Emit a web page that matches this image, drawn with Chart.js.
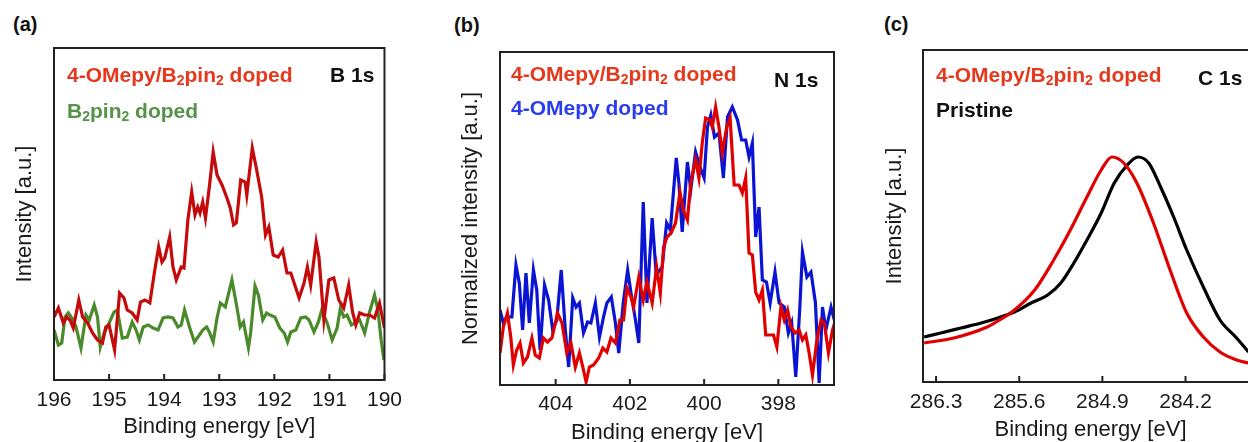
<!DOCTYPE html>
<html lang="en">
<head>
<meta charset="utf-8">
<title>XPS spectra - B 1s / N 1s / C 1s</title>
<script src="https://cdn.jsdelivr.net/npm/chart.js@4.4.1/dist/chart.umd.min.js"></script>
<style>
  html, body { margin: 0; padding: 0; background: #fff; overflow: hidden; }
  body { width: 1248px; height: 442px; position: relative; font-family: 'Liberation Sans', Arial, Helvetica, sans-serif; }
  .panel { position: absolute; top: 0; }
  .tag { position: absolute; font-weight: bold; font-size: 21px; line-height: 1; white-space: nowrap; }
  .tag sub { font-size: 14px; line-height: 0; vertical-align: -3px; }
  .letter { position: absolute; font-weight: bold; font-size: 20px; line-height: 1; color: #111; }
</style>
</head>
<body>

<div class="letter" style="left:13px;top:14px">(a)</div>
<div class="letter" style="left:454px;top:15px">(b)</div>
<div class="letter" style="left:884px;top:14px">(c)</div>

<div class="panel" style="left:0px;width:410px;height:442px"><canvas id="chartB1s"></canvas></div>
<div class="panel" style="left:440px;width:410px;height:450px"><canvas id="chartN1s"></canvas></div>
<div class="panel" style="left:860px;width:420px;height:446px"><canvas id="chartC1s"></canvas></div>

<!-- panel (a) labels -->
<div class="tag" style="left:67px;top:64px;color:#e5381c">4-OMepy/B<sub>2</sub>pin<sub>2</sub> doped</div>
<div class="tag" style="left:330px;top:64px;color:#111">B 1s</div>
<div class="tag" style="left:67px;top:100px;color:#559448">B<sub>2</sub>pin<sub>2</sub> doped</div>

<!-- panel (b) labels -->
<div class="tag" style="left:511px;top:63px;color:#e5381c">4-OMepy/B<sub>2</sub>pin<sub>2</sub> doped</div>
<div class="tag" style="left:774px;top:69px;color:#111">N 1s</div>
<div class="tag" style="left:511px;top:97px;color:#2a3cf0">4-OMepy doped</div>

<!-- panel (c) labels -->
<div class="tag" style="left:936px;top:64px;color:#e5381c">4-OMepy/B<sub>2</sub>pin<sub>2</sub> doped</div>
<div class="tag" style="left:1198px;top:67px;color:#111">C 1s</div>
<div class="tag" style="left:936px;top:99px;color:#111">Pristine</div>

<script>
// ========== データ ==========
// (a) B 1s
const b1sTicks = [196, 195, 194, 193, 192, 191, 190];
const b1sDopedE = [196.00, 195.92, 195.83, 195.77, 195.71, 195.65, 195.55, 195.48, 195.39, 195.30,
  195.21, 195.12, 195.06, 195.00, 194.90, 194.81, 194.73, 194.67, 194.58, 194.49,
  194.43, 194.35, 194.26, 194.17, 194.10, 194.04, 193.99, 193.90, 193.84, 193.78,
  193.69, 193.64, 193.57, 193.50, 193.44, 193.39, 193.35, 193.30, 193.25, 193.18,
  193.11, 193.04, 192.95, 192.86, 192.80, 192.74, 192.69, 192.61, 192.53, 192.50,
  192.40, 192.32, 192.23, 192.16, 192.10, 192.02, 191.93, 191.85, 191.77, 191.70,
  191.64, 191.55, 191.46, 191.40, 191.34, 191.24, 191.19, 191.10, 191.01, 190.92,
  190.83, 190.74, 190.65, 190.58, 190.52, 190.45, 190.36, 190.27, 190.18, 190.09, 190.00];
const b1sDopedI = [63, 72, 57, 63, 60, 52, 80, 63, 57, 47,
  40, 37, 53, 55, 30, 87, 82, 70, 67, 60,
  78, 80, 77, 110, 133, 118, 122, 143, 113, 100,
  113, 112, 160, 188, 165, 173, 167, 178, 162, 193,
  228, 205, 195, 182, 172, 155, 157, 200, 198, 185,
  232, 210, 183, 145, 153, 125, 123, 130, 107, 107,
  97, 82, 97, 113, 95, 138, 123, 60, 100, 102,
  80, 72, 95, 68, 55, 67, 65, 65, 62, 77, 52];
const b1sPinE = [196.00, 195.92, 195.86, 195.80, 195.74, 195.65, 195.60, 195.51, 195.42, 195.36,
  195.27, 195.21, 195.16, 195.09, 195.00, 194.91, 194.85, 194.76, 194.67, 194.58,
  194.51, 194.45, 194.38, 194.29, 194.20, 194.11, 194.02, 193.93, 193.84, 193.75,
  193.69, 193.63, 193.54, 193.45, 193.36, 193.30, 193.23, 193.18, 193.11, 193.04,
  192.98, 192.89, 192.77, 192.68, 192.62, 192.56, 192.47, 192.43, 192.35, 192.29,
  192.21, 192.14, 192.08, 191.99, 191.90, 191.82, 191.76, 191.70, 191.61, 191.52,
  191.43, 191.37, 191.28, 191.20, 191.14, 191.04, 190.95, 190.86, 190.80, 190.74,
  190.68, 190.60, 190.51, 190.45, 190.36, 190.27, 190.18, 190.12, 190.06, 190.01];
const b1sPinI = [50, 35, 37, 63, 67, 60, 53, 32, 65, 60,
  75, 63, 33, 47, 57, 68, 70, 42, 43, 58,
  50, 40, 53, 55, 52, 50, 62, 63, 62, 53,
  55, 70, 53, 38, 45, 50, 53, 48, 38, 62,
  77, 73, 100, 73, 53, 58, 32, 47, 94, 85,
  60, 67, 65, 63, 52, 47, 38, 48, 50, 62,
  63, 60, 48, 58, 70, 57, 40, 52, 72, 63,
  65, 55, 58, 60, 47, 68, 85, 70, 40, 20];

// (b) N 1s
const n1sTicks = [404, 402, 400, 398];
const n1sDopedE = [405.50, 405.41, 405.30, 405.21, 405.14, 405.05, 404.96, 404.87, 404.76, 404.64,
  404.55, 404.44, 404.33, 404.22, 404.10, 403.95, 403.83, 403.70, 403.59, 403.47,
  403.36, 403.25, 403.18, 403.09, 402.98, 402.84, 402.73, 402.62, 402.51, 402.39,
  402.27, 402.17, 402.08, 401.97, 401.90, 401.76, 401.64, 401.54, 401.40, 401.28,
  401.18, 401.09, 401.00, 400.89, 400.77, 400.65, 400.56, 400.45, 400.36, 400.23,
  400.14, 400.05, 399.96, 399.84, 399.78, 399.69, 399.60, 399.51, 399.39, 399.30,
  399.19, 399.06, 398.97, 398.88, 398.79, 398.70, 398.61, 398.52, 398.43, 398.34,
  398.22, 398.13, 398.04, 397.93, 397.84, 397.75, 397.66, 397.55, 397.44, 397.35,
  397.26, 397.17, 397.08, 396.96, 396.85, 396.76, 396.65, 396.54, 396.46];
const n1sDopedI = [32, 58, 72, 48, 20, 35, 42, 22, 28, 47,
  30, 27, 47, 43, 47, 72, 62, 32, 42, 18,
  32, 15, 3, 18, 20, 27, 37, 33, 47, 42,
  65, 65, 97, 88, 78, 108, 85, 103, 82, 118,
  92, 138, 148, 152, 162, 193, 175, 165, 202, 225,
  207, 242, 267, 265, 258, 278, 258, 232, 258, 267,
  200, 200, 192, 207, 132, 130, 93, 85, 95, 50,
  50, 50, 38, 78, 65, 75, 58, 52, 55, 45,
  50, 32, 10, 45, 65, 62, 32, 55, 65];
const n1sOmepyE = [405.50, 405.41, 405.32, 405.18, 405.07, 404.98, 404.89, 404.80, 404.71, 404.60,
  404.51, 404.42, 404.30, 404.19, 404.08, 403.97, 403.85, 403.74, 403.65, 403.54,
  403.45, 403.36, 403.25, 403.14, 403.05, 402.93, 402.82, 402.71, 402.62, 402.50,
  402.39, 402.30, 402.18, 402.06, 401.97, 401.85, 401.76, 401.64, 401.54, 401.40,
  401.29, 401.13, 401.01, 400.91, 400.75, 400.68, 400.59, 400.45, 400.36, 400.23,
  400.11, 400.00, 399.91, 399.82, 399.72, 399.60, 399.48, 399.37, 399.24, 399.10,
  398.99, 398.88, 398.79, 398.70, 398.61, 398.52, 398.43, 398.32, 398.22, 398.09,
  397.98, 397.84, 397.73, 397.64, 397.53, 397.42, 397.35, 397.23, 397.12, 397.00,
  396.90, 396.81, 396.72, 396.58, 396.49];
const n1sOmepyI = [75, 62, 68, 68, 120, 102, 55, 112, 62, 115,
  95, 35, 100, 85, 55, 65, 115, 55, 18, 87,
  78, 82, 52, 63, 62, 82, 48, 68, 82, 88,
  62, 32, 82, 115, 92, 65, 42, 183, 82, 167,
  110, 118, 162, 155, 227, 202, 153, 223, 195, 233,
  218, 207, 258, 270, 248, 252, 207, 268, 278, 265,
  245, 245, 228, 242, 148, 178, 105, 103, 82, 113,
  82, 78, 52, 62, 8, 78, 133, 108, 113, 82,
  2, 78, 55, 78, 65];

// (c) C 1s
const c1sTicks = [286.3, 285.6, 284.9, 284.2];
const c1sDopedE = [286.40, 286.15, 285.87, 285.78, 285.64, 285.47, 285.31, 285.17, 285.03, 284.91,
  284.82, 284.72, 284.61, 284.47, 284.33, 284.19, 284.05, 283.91, 283.77, 283.67];
const c1sDopedI = [39, 44, 55, 61, 72, 92, 122, 152, 185, 212,
  225, 219, 199, 159, 112, 69, 45, 30, 22, 19];
const c1sPristineE = [286.40, 286.26, 286.09, 285.92, 285.78, 285.64, 285.50, 285.36, 285.25, 285.14,
  285.03, 284.91, 284.80, 284.69, 284.60, 284.51, 284.41, 284.30, 284.19, 284.05,
  283.91, 283.77, 283.67];
const c1sPristineI = [45, 49, 54, 59, 64, 70, 79, 87, 99, 119,
  142, 169, 199, 217, 225, 219, 195, 165, 132, 95,
  62, 44, 30];

// ========== 共通設定 ==========
const FONT = "'Liberation Sans', Arial, Helvetica, sans-serif";
const INK = '#1a1a1a';

function toPoints(energies, values) {
  return energies.map((e, i) => ({ x: e, y: values[i] }));
}

// frame around the plot area + inward x ticks
const frameAndTicks = {
  id: 'frameAndTicks',
  afterDraw(chart) {
    const { ctx, chartArea: a, scales: { x } } = chart;
    ctx.save();
    ctx.strokeStyle = '#222';
    ctx.lineWidth = 2;
    ctx.strokeRect(a.left, a.top, a.right - a.left, a.bottom - a.top);
    ctx.beginPath();
    x.ticks.forEach(t => {
      const px = x.getPixelForValue(t.value);
      ctx.moveTo(px, a.bottom);
      ctx.lineTo(px, a.bottom - 6);
    });
    ctx.stroke();
    ctx.restore();
  }
};

function makePanel(canvasId, cfg) {
  return new Chart(document.getElementById(canvasId), {
    type: 'line',
    data: {
      datasets: cfg.series.map(s => ({
        data: toPoints(s.e, s.v),
        borderColor: s.color,
        borderWidth: 3.2,
        pointRadius: 0,
        fill: false,
        tension: cfg.smooth ? 0.4 : 0,
        cubicInterpolationMode: cfg.smooth ? 'monotone' : 'default',
      })),
    },
    options: {
      responsive: true,
      maintainAspectRatio: false,
      animation: false,
      events: [],
      layout: { padding: { top: cfg.top, right: cfg.right, bottom: 0, left: 0 } },
      plugins: { legend: { display: false }, tooltip: { enabled: false } },
      scales: {
        x: {
          type: 'linear',
          reverse: true,
          min: cfg.xMin,
          max: cfg.xMax,
          grid: { display: false, drawTicks: false },
          border: { display: false },
          afterBuildTicks: scale => { scale.ticks = cfg.ticks.map(v => ({ value: v })); },
          afterFit: scale => { scale.height = cfg.xAxisHeight; },
          ticks: {
            color: INK,
            font: { family: FONT, size: 21 },
            padding: cfg.tickPad,
            maxRotation: 0,
            autoSkip: false,
            callback: v => cfg.decimals ? Number(v).toFixed(cfg.decimals) : String(v),
          },
          title: {
            display: true,
            text: 'Binding energy [eV]',
            color: INK,
            font: { family: FONT, size: 22 },
            padding: { top: 0, bottom: cfg.xTitlePad },
          },
        },
        y: {
          min: 0,
          max: cfg.yMax,
          grid: { display: false, drawTicks: false },
          border: { display: false },
          ticks: { display: false },
          afterFit: scale => { scale.width = cfg.yAxisWidth; },
          title: {
            display: true,
            text: cfg.yTitle,
            color: INK,
            font: { family: FONT, size: 22 },
            padding: { top: cfg.yTitlePad, bottom: 0 },
          },
        },
      },
    },
    plugins: [frameAndTicks],
  });
}

// ========== 描画 ==========
function init() {
  makePanel('chartB1s', {
    series: [
      { e: b1sDopedE, v: b1sDopedI, color: '#c40a0a' },
      { e: b1sPinE, v: b1sPinI, color: '#4b8a2b' },
    ],
    ticks: b1sTicks, xMin: 190, xMax: 196, yMax: 332,
    top: 48, right: 20, xAxisHeight: 62, yAxisWidth: 54,
    tickPad: 8, xTitlePad: 2, yTitlePad: 12,
    yTitle: 'Intensity [a.u.]',
  });

  makePanel('chartN1s', {
    series: [
      { e: n1sDopedE, v: n1sDopedI, color: '#e00000' },
      { e: n1sOmepyE, v: n1sOmepyI, color: '#0a14d2' },
    ],
    ticks: n1sTicks, xMin: 396.5, xMax: 405.5, yMax: 333,
    top: 52, right: 16, xAxisHeight: 65, yAxisWidth: 60,
    tickPad: 7, xTitlePad: 4, yTitlePad: 18,
    yTitle: 'Normalized intensity [a.u.]',
  });

  makePanel('chartC1s', {
    series: [
      { e: c1sDopedE, v: c1sDopedI, color: '#e00000' },
      { e: c1sPristineE, v: c1sPristineI, color: '#000000' },
    ],
    smooth: true, decimals: 1,
    ticks: c1sTicks, xMin: 283.59, xMax: 286.41, yMax: 332,
    top: 50, right: 22, xAxisHeight: 64, yAxisWidth: 63,
    tickPad: 8, xTitlePad: 3, yTitlePad: 22,
    yTitle: 'Intensity [a.u.]',
  });
}

document.addEventListener('DOMContentLoaded', init);
</script>
</body>
</html>
